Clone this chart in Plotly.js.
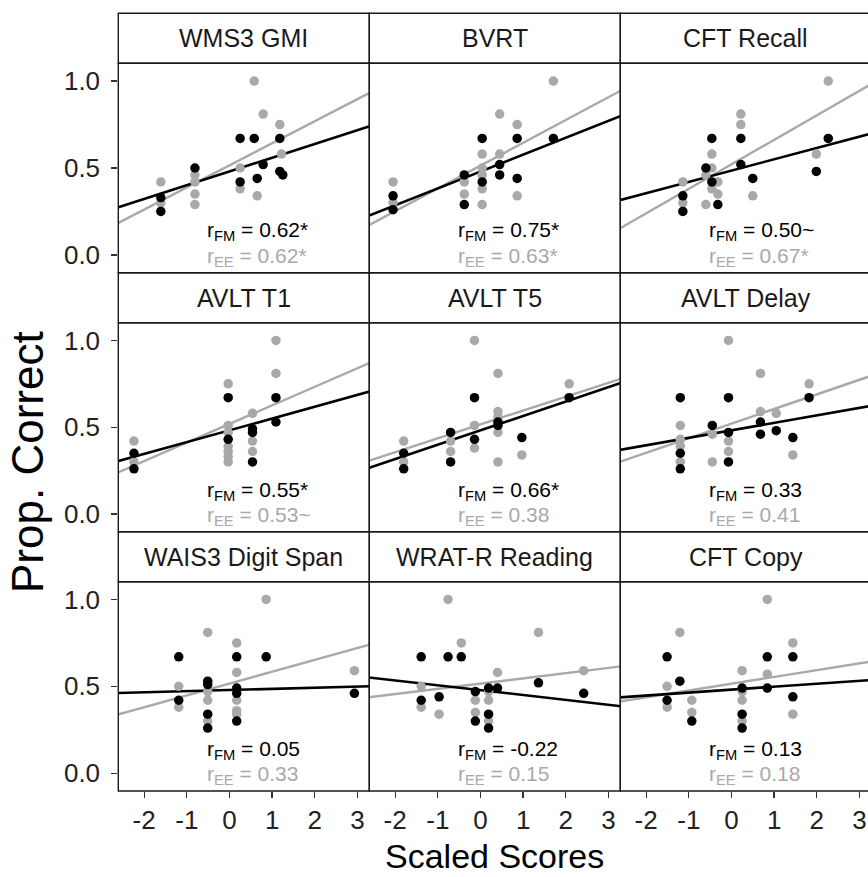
<!DOCTYPE html>
<html>
<head>
<meta charset="utf-8">
<script src="https://cdn.plot.ly/plotly-3.0.1.min.js"></script>
<style>
  html, body { margin: 0; padding: 0; background: #ffffff; overflow: hidden; }
  #chart { width: 868px; height: 877px; }
</style>
</head>
<body>
<div id="chart"></div>
<script>
// ---------------- DATA ----------------
const panelNames = ["WMS3 GMI", "BVRT", "CFT Recall",
                    "AVLT T1", "AVLT T5", "AVLT Delay",
                    "WAIS3 Digit Span", "WRAT-R Reading", "CFT Copy"];

// FM (black) points per panel
const fmX = [
  [-1.61, -1.61, -0.81, 0.25, 0.25, 0.58, 0.65, 0.79, 1.18, 1.18, 1.25],
  [-2.05, -2.05, -0.38, -0.38, 0.04, 0.04, 0.45, 0.45, 0.86, 0.86, 1.71],
  [-1.14, -1.14, -0.60, -0.46, -0.46, -0.32, 0.22, 0.22, 0.50, 1.99, 2.27],
  [-2.24, -2.24, -0.03, -0.03, 0.54, 0.54, 0.54, 1.09, 1.09],
  [-1.80, -1.80, -0.70, -0.70, -0.14, -0.14, 0.41, 0.41, 0.97, 2.08],
  [-1.20, -1.20, -1.20, -0.45, -0.07, -0.07, -0.07, 0.68, 0.68, 1.05, 1.44, 1.82],
  [-1.19, -1.19, -0.51, -0.51, -0.51, -0.51, 0.17, 0.17, 0.17, 0.17, 0.86, 2.93],
  [-1.39, -1.39, -0.97, -0.76, -0.45, -0.12, -0.12, 0.19, 0.19, 0.19, 0.40, 1.36, 2.42],
  [-1.51, -1.51, -1.21, -0.93, 0.25, 0.25, 0.25, 0.84, 0.84, 1.44, 1.44]
];
const fmY = [
  [0.33, 0.25, 0.50, 0.67, 0.42, 0.67, 0.44, 0.52, 0.67, 0.48, 0.46],
  [0.34, 0.26, 0.46, 0.29, 0.67, 0.42, 0.52, 0.46, 0.67, 0.44, 0.67],
  [0.34, 0.25, 0.50, 0.67, 0.42, 0.29, 0.67, 0.52, 0.44, 0.48, 0.67],
  [0.35, 0.26, 0.67, 0.43, 0.49, 0.47, 0.30, 0.67, 0.53],
  [0.35, 0.26, 0.47, 0.30, 0.67, 0.43, 0.53, 0.51, 0.44, 0.67],
  [0.67, 0.35, 0.26, 0.51, 0.67, 0.47, 0.30, 0.53, 0.46, 0.48, 0.44, 0.67],
  [0.67, 0.42, 0.53, 0.51, 0.34, 0.26, 0.67, 0.49, 0.46, 0.30, 0.67, 0.46],
  [0.67, 0.42, 0.44, 0.67, 0.67, 0.47, 0.30, 0.49, 0.34, 0.26, 0.49, 0.52, 0.46],
  [0.67, 0.42, 0.53, 0.30, 0.49, 0.34, 0.26, 0.67, 0.49, 0.67, 0.44]
];

// EE (grey) points per panel
const eeX = [
  [-1.61, -1.61, -0.81, -0.81, -0.81, -0.81, 0.25, 0.25, 0.58, 0.65, 0.79, 1.18, 1.22],
  [-2.05, -2.05, -0.38, -0.38, 0.04, 0.04, 0.04, 0.04, 0.04, 0.45, 0.45, 0.86, 0.86, 1.71],
  [-1.14, -1.14, -0.60, -0.60, -0.46, -0.46, -0.46, -0.32, -0.32, 0.22, 0.22, 0.50, 1.99, 2.27],
  [-2.24, -2.24, -0.03, -0.03, -0.03, -0.03, -0.03, -0.03, -0.03, 0.54, 0.54, 0.54, 1.09, 1.09],
  [-1.80, -1.80, -0.70, -0.70, -0.14, -0.14, -0.14, 0.41, 0.41, 0.41, 0.41, 0.41, 0.97, 2.08],
  [-1.20, -1.20, -1.20, -1.20, -0.45, -0.45, -0.07, -0.07, -0.07, 0.68, 0.68, 1.05, 1.44, 1.82],
  [-1.19, -1.19, -0.51, -0.51, -0.51, -0.51, 0.17, 0.17, 0.17, 0.17, 0.17, 0.86, 2.93],
  [-1.39, -1.39, -0.97, -0.76, -0.45, -0.12, -0.12, 0.19, 0.19, 0.19, 0.40, 1.36, 2.42],
  [-1.51, -1.51, -1.21, -0.93, -0.93, 0.25, 0.25, 0.25, 0.25, 0.84, 0.84, 1.44, 1.44]
];
const eeY = [
  [0.42, 0.30, 0.46, 0.42, 0.35, 0.29, 0.50, 0.38, 1.00, 0.34, 0.81, 0.75, 0.58],
  [0.42, 0.30, 0.42, 0.35, 0.58, 0.50, 0.46, 0.38, 0.29, 0.81, 0.58, 0.75, 0.34, 1.00],
  [0.42, 0.30, 0.46, 0.29, 0.58, 0.50, 0.38, 0.42, 0.35, 0.81, 0.75, 0.34, 0.58, 1.00],
  [0.42, 0.30, 0.75, 0.51, 0.47, 0.39, 0.36, 0.33, 0.30, 0.58, 0.42, 0.36, 1.00, 0.81],
  [0.42, 0.30, 0.42, 0.36, 1.00, 0.51, 0.38, 0.81, 0.59, 0.56, 0.47, 0.30, 0.34, 0.75],
  [0.51, 0.43, 0.39, 0.30, 0.46, 0.30, 1.00, 0.42, 0.36, 0.81, 0.59, 0.58, 0.34, 0.75],
  [0.50, 0.38, 0.81, 0.47, 0.42, 0.30, 0.75, 0.58, 0.42, 0.36, 0.34, 1.00, 0.59],
  [0.50, 0.38, 0.34, 1.00, 0.75, 0.42, 0.35, 0.47, 0.42, 0.30, 0.58, 0.81, 0.59],
  [0.50, 0.38, 0.81, 0.42, 0.35, 0.59, 0.47, 0.42, 0.30, 1.00, 0.57, 0.75, 0.34]
];

// Fitted regression lines (slope, intercept)
const fmSlope     = [0.079, 0.097, 0.065, 0.068, 0.083, 0.043, 0.0065, -0.028, 0.017];
const fmIntercept = [0.480, 0.480, 0.485, 0.482, 0.482, 0.482, 0.479, 0.478, 0.481];
const eeSlope     = [0.127, 0.131, 0.141, 0.107, 0.080, 0.084, 0.068, 0.030, 0.039];
const eeIntercept = [0.515, 0.514, 0.521, 0.519, 0.516, 0.521, 0.516, 0.516, 0.515];

// Correlation labels
const rFM = ["0.62*", "0.75*", "0.50~", "0.55*", "0.66*", "0.33", "0.05", "-0.22", "0.13"];
const rEE = ["0.62*", "0.63*", "0.67*", "0.53~", "0.38", "0.41", "0.33", "0.15", "0.18"];

const xTicks = [-2, -1, 0, 1, 2, 3];
const xTickText = ["-2", "-1", "0", "1", "2", "3"];
const yTicks = [0, 0.5, 1];
const yTickText = ["0.0", "0.5", "1.0"];

// ---------------- LAYOUT ----------------
const W = 868, H = 877;
const FONT = "Liberation Sans, Arial, Helvetica, sans-serif";
const BLACK = "#000000";
const GREY = "#a9a9a9";

const colX = [[118.3, 369.3], [369.3, 620.3], [620.3, 868]];
const rowPanel = [[63.3, 272.7], [322.7, 531.7], [581.7, 791.0]];
const stripH = 50;
const xRangeFull = [-2.607, 3.279];
const xRangeLast = [-2.607, 3.202];
const yRange = [-0.102, 1.102];

const px = v => v / W;
const py = v => 1 - v / H;

const traces = [];
const layout = {
  width: W, height: H,
  margin: {l: 0, r: 0, t: 0, b: 0, pad: 0},
  paper_bgcolor: "#ffffff",
  plot_bgcolor: "#ffffff",
  showlegend: false,
  font: {family: FONT, color: BLACK},
  shapes: [],
  annotations: []
};

for (let i = 0; i < 9; i++) {
  const r = Math.floor(i / 3), c = i % 3;
  const n = i + 1;
  const xa = "xaxis" + (n === 1 ? "" : n);
  const ya = "yaxis" + (n === 1 ? "" : n);
  const xr = "x" + (n === 1 ? "" : n);
  const yr = "y" + (n === 1 ? "" : n);

  layout[xa] = {
    domain: [px(colX[c][0]), px(colX[c][1])],
    range: c === 2 ? xRangeLast : xRangeFull,
    anchor: yr,
    showgrid: false, zeroline: false, showline: false,
    tickvals: xTicks, ticktext: xTickText,
    ticks: r === 2 ? "outside" : "",
    ticklen: 6, tickwidth: 1.3, tickcolor: "#333333",
    showticklabels: r === 2,
    tickfont: {size: 26, color: "#222222", family: FONT},
    fixedrange: true
  };
  layout[ya] = {
    domain: [py(rowPanel[r][1]), py(rowPanel[r][0])],
    range: yRange,
    anchor: xr,
    showgrid: false, zeroline: false, showline: false,
    tickvals: yTicks, ticktext: yTickText,
    ticks: c === 0 ? "outside" : "",
    ticklen: 6, tickwidth: 1.3, tickcolor: "#333333",
    showticklabels: c === 0,
    ticklabelstandoff: 6,
    tickfont: {size: 26, color: "#222222", family: FONT},
    fixedrange: true
  };

  // regression lines (drawn across full panel, clipped by axis)
  const lx = [-4, 5];
  traces.push({
    type: "scatter", mode: "lines", xaxis: xr, yaxis: yr,
    x: lx, y: lx.map(v => eeIntercept[i] + eeSlope[i] * v),
    line: {color: GREY, width: 2.4}, hoverinfo: "skip"
  });
  traces.push({
    type: "scatter", mode: "lines", xaxis: xr, yaxis: yr,
    x: lx, y: lx.map(v => fmIntercept[i] + fmSlope[i] * v),
    line: {color: BLACK, width: 2.6}, hoverinfo: "skip"
  });
  // points
  traces.push({
    type: "scatter", mode: "markers", xaxis: xr, yaxis: yr,
    x: eeX[i], y: eeY[i],
    marker: {color: GREY, size: 9.5, line: {width: 0}}, hoverinfo: "x+y"
  });
  traces.push({
    type: "scatter", mode: "markers", xaxis: xr, yaxis: yr,
    x: fmX[i], y: fmY[i],
    marker: {color: BLACK, size: 9.5, line: {width: 0}}, hoverinfo: "x+y"
  });

  // correlation labels
  layout.annotations.push({
    xref: xr, yref: yr, x: -0.58, y: 0.135, xanchor: "left", yanchor: "middle",
    text: "r<sub>FM</sub> = " + rFM[i], showarrow: false,
    font: {size: 21, color: BLACK, family: FONT}
  });
  layout.annotations.push({
    xref: xr, yref: yr, x: -0.58, y: -0.01, xanchor: "left", yanchor: "middle",
    text: "r<sub>EE</sub> = " + rEE[i], showarrow: false,
    font: {size: 21, color: GREY, family: FONT}
  });

  const x0 = colX[c][0];
  const x1 = c === 2 ? W + 10 : colX[c][1];
  // panel border
  layout.shapes.push({
    type: "rect", xref: "paper", yref: "paper", layer: "above",
    x0: px(x0), x1: px(x1), y0: py(rowPanel[r][1]), y1: py(rowPanel[r][0]),
    line: {color: "#1a1a1a", width: 1.4}, fillcolor: "rgba(0,0,0,0)"
  });
  // strip
  const sTop = rowPanel[r][0] - stripH;
  layout.shapes.push({
    type: "rect", xref: "paper", yref: "paper", layer: "above",
    x0: px(x0), x1: px(x1), y0: py(rowPanel[r][0]), y1: py(sTop),
    line: {color: "#1a1a1a", width: 1.4}, fillcolor: "rgba(0,0,0,0)"
  });
  layout.annotations.push({
    xref: "paper", yref: "paper",
    x: px((colX[c][0] + colX[c][1] + (c === 2 ? 3 : 0)) / 2),
    y: py(sTop + stripH / 2),
    xanchor: "center", yanchor: "middle",
    text: panelNames[i], showarrow: false,
    font: {size: 25, color: "#1a1a1a", family: FONT}
  });
}

// axis titles
layout.annotations.push({
  xref: "paper", yref: "paper", x: px(494), y: py(856),
  xanchor: "center", yanchor: "middle", text: "Scaled Scores", showarrow: false,
  font: {size: 34, color: BLACK, family: FONT}
});
layout.annotations.push({
  xref: "paper", yref: "paper", x: px(27), y: py(462),
  xanchor: "center", yanchor: "middle", text: "Prop. Correct", showarrow: false,
  textangle: -90,
  font: {size: 44, color: BLACK, family: FONT}
});

Plotly.newPlot("chart", traces, layout, {staticPlot: true, displayModeBar: false});
</script>
</body>
</html>
